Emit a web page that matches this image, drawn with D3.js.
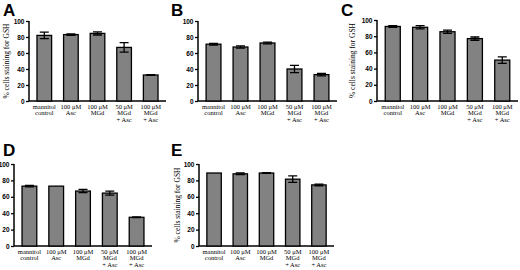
<!DOCTYPE html>
<html lang="en">
<head>
<meta charset="utf-8">
<title>% cells staining for GSH</title>
<script src="https://d3js.org/d3.v7.min.js"></script>
<style>
  body { margin: 0; background: #fff; }
  svg { display: block; }
  .letter { font-family: "Liberation Sans", Arial, sans-serif; font-weight: bold; font-size: 17px; }
  .tick text { font-family: "Liberation Sans", Arial, sans-serif; font-weight: bold; font-size: 6.5px; }
  .cat { font-family: "Liberation Serif", "Times New Roman", serif; font-size: 6.5px; }
  .ylab { font-family: "Liberation Serif", "Times New Roman", serif; font-size: 7.5px; }
</style>
</head>
<body>
<svg width="520" height="270"></svg>
<script>
// categories (multi-line labels)
const categories = ["mannitol control", "100 uM Asc", "100 uM MGd", "50 uM MGd + Asc", "100 uM MGd + Asc"];
const catLines = [["mannitol", "control"], ["100 μM", "Asc"], ["100 μM", "MGd"], ["50 μM", "MGd", "+ Asc"], ["100 μM", "MGd", "+ Asc"]];
const yTicks = [0, 20, 40, 60, 80, 100];

// values (mean, error)
const valuesA = [82, 83, 84.5, 67, 32.5];
const errA    = [4, 1, 2, 6, 0.5];
const valuesB = [71, 67.5, 72.5, 40, 33];
const errB    = [1, 1.5, 1, 4.5, 1.5];
const valuesC = [92, 91, 85.5, 77, 50.5];
const errC    = [1, 2, 2, 2, 4];
const valuesD = [73, 73, 67, 64.5, 35];
const errD    = [1, 0, 2, 2.5, 0.5];
const valuesE = [89, 88, 89, 81.5, 74.5];
const errE    = [0, 1, 0.5, 4, 1];

const svg = d3.select("svg");

// layout of each panel
const panels = [
  {letter: "A", lx: 3,   ly: 16,  x0: 29,  x1: 166, yTop: 21,  yBot: 101, vals: valuesA, errs: errA, ylab: 9},
  {letter: "B", lx: 171, ly: 16,  x0: 198, x1: 337, yTop: 21,  yBot: 101, vals: valuesB, errs: errB, ylab: null},
  {letter: "C", lx: 341, ly: 16,  x0: 377, x1: 518, yTop: 20,  yBot: 101, vals: valuesC, errs: errC, ylab: 355},
  {letter: "D", lx: 3,   ly: 156, x0: 14,  x1: 152, yTop: 164, yBot: 246, vals: valuesD, errs: errD, ylab: null},
  {letter: "E", lx: 171, ly: 156, x0: 199, x1: 334, yTop: 164, yBot: 246, vals: valuesE, errs: errE, ylab: 180}
];

panels.forEach(p => {
  const g = svg.append("g");

  g.append("text").attr("class", "letter")
   .attr("x", p.lx).attr("y", p.ly).text(p.letter);

  const x = d3.scaleBand().domain(categories).range([p.x0, p.x1])
              .paddingInner(0.45).paddingOuter(0.3);
  const y = d3.scaleLinear().domain([0, 100]).range([p.yBot, p.yTop]);

  // y axis
  const ya = g.append("g").attr("transform", `translate(${p.x0},0)`)
     .call(d3.axisLeft(y).tickValues(yTicks).tickSize(3).tickPadding(1.5));
  ya.select(".domain").attr("stroke-width", 1.5).attr("d", `M0,${p.yBot}V${p.yTop}`);
  ya.selectAll(".tick line").attr("stroke-width", 1.3);

  // x axis line
  g.append("line")
   .attr("x1", p.x0).attr("x2", p.x1)
   .attr("y1", p.yBot).attr("y2", p.yBot)
   .attr("stroke", "#000").attr("stroke-width", 1.5);

  // bars
  g.selectAll("rect.bar").data(p.vals).enter().append("rect")
   .attr("class", "bar")
   .attr("x", (d, i) => x(categories[i]))
   .attr("width", x.bandwidth())
   .attr("y", d => y(d))
   .attr("height", d => p.yBot - y(d))
   .attr("fill", "#828282")
   .attr("stroke", "#000")
   .attr("stroke-width", 1.3);

  // error bars
  const cw = 4.5;
  p.vals.forEach((v, i) => {
    const e = p.errs[i];
    if (e <= 0) return;
    const cx = x(categories[i]) + x.bandwidth() / 2;
    g.append("path")
     .attr("d", `M${cx},${y(v + e)}V${y(v - e)}M${cx - cw},${y(v + e)}H${cx + cw}M${cx - cw},${y(v - e)}H${cx + cw}`)
     .attr("stroke", "#000").attr("stroke-width", 1.3).attr("fill", "none");
  });

  // category labels
  catLines.forEach((lines, i) => {
    const cx = x(categories[i]) + x.bandwidth() / 2;
    const t = g.append("text").attr("class", "cat")
      .attr("text-anchor", "middle")
      .attr("x", cx).attr("y", p.yBot + 7.5);
    lines.forEach((ln, k) => {
      t.append("tspan").attr("x", cx).attr("dy", k === 0 ? 0 : 6.8).text(ln);
    });
  });

  // y label
  if (p.ylab !== null) {
    g.append("text").attr("class", "ylab")
     .attr("text-anchor", "middle")
     .attr("transform", `translate(${p.ylab},${(p.yTop + p.yBot) / 2}) rotate(-90)`)
     .text("% cells staining for GSH");
  }
});
</script>
</body>
</html>
